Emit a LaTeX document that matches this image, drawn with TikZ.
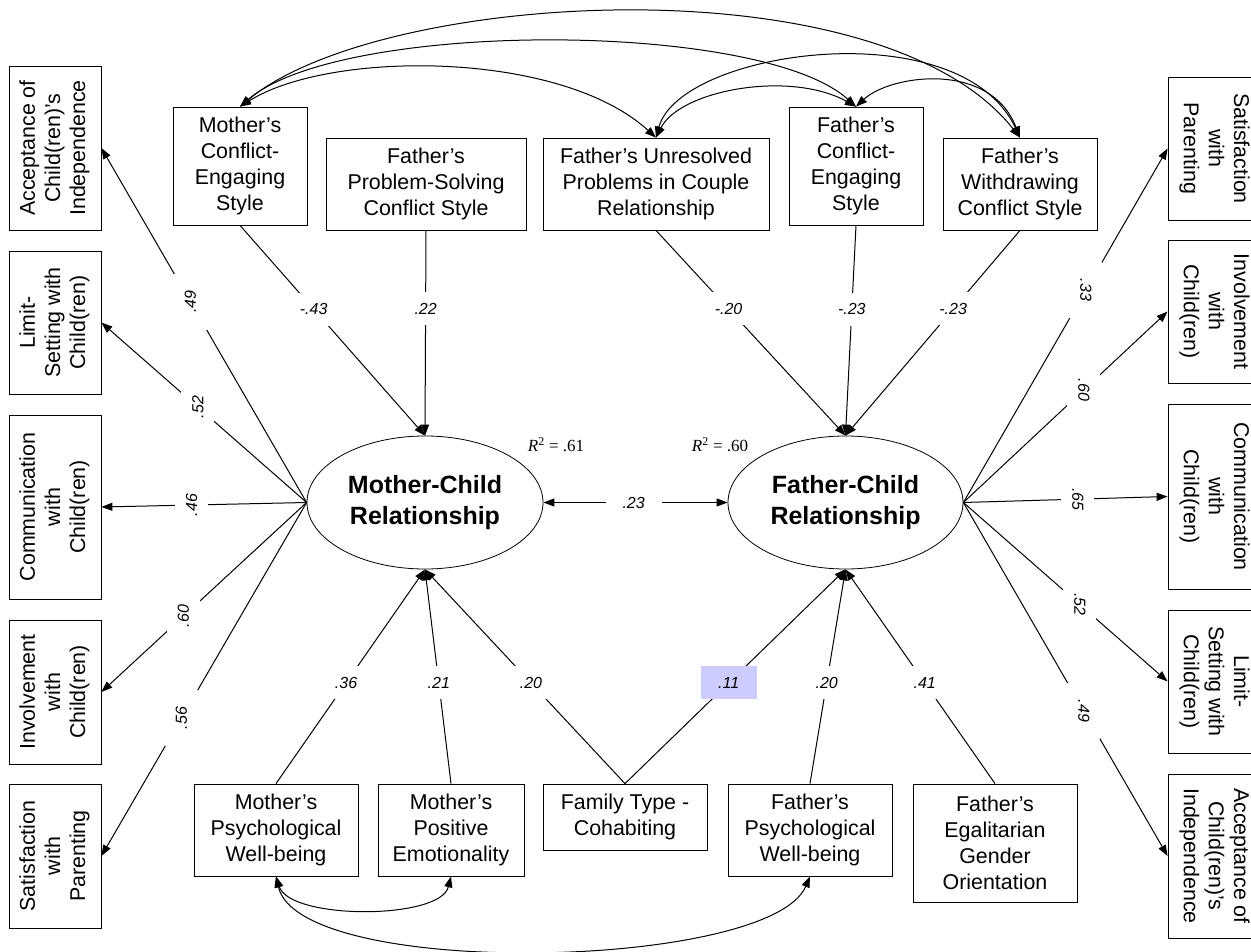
\documentclass[tikz,border=0pt]{standalone}
\usepackage{fontspec}
\setmainfont{Liberation Sans}
\newfontfamily\rfont{Liberation Serif}
\usetikzlibrary{arrows.meta,shapes.geometric}
\newcommand{\sidetext}[2]{\rotatebox{#1}{\begin{tabular}{@{}c@{}}#2\end{tabular}}}
\definecolor{hilite}{HTML}{CCCCFF}
\begin{document}
\begin{tikzpicture}[x=1pt,y=-1pt,
  box/.style={draw, line width=0.8pt, rectangle, inner sep=0pt, align=center,
    font=\fontsize{21.4}{26.2}\selectfont},
  sbox/.style={box, minimum width=92pt, font=\fontsize{21.4}{25.2}\selectfont},
  lat/.style={draw, line width=0.8pt, ellipse, inner sep=0pt, align=center,
    minimum width=236pt, minimum height=133pt,
    font=\fontsize{25}{31}\selectfont\bfseries},
  lab/.style={font=\fontsize{16}{16}\selectfont\itshape, fill=white,
    minimum width=56pt, minimum height=33pt, inner sep=0pt},
  r2/.style={font=\rfont\fontsize{17}{17}\selectfont, inner sep=0pt},
  tip/.tip={Triangle[length=11pt,width=8pt]},
  arr/.style={line width=1pt, -tip},
  darr/.style={line width=1pt, tip-tip},
]
\useasboundingbox (0,0) rectangle (1251,952);

% latent variables
\node[lat] (mc) at (425,502.5) {Mother-Child\\Relationship};
\node[lat, minimum width=235pt] (fc) at (845.5,502.5) {Father-Child\\Relationship};

% top predictors
\node[box, minimum width=134pt, minimum height=118pt] (mce) at (240,166) {Mother’s\\Conflict-\\Engaging\\Style};
\node[box, minimum width=200pt, minimum height=92pt] (fps) at (426,184) {Father’s\\Problem-Solving\\Conflict Style};
\node[box, minimum width=226pt, minimum height=92pt] (fu) at (656,184) {Father’s Unresolved\\Problems in Couple\\Relationship};
\node[box, minimum width=134pt, minimum height=118pt] (fce) at (856,166) {Father’s\\Conflict-\\Engaging\\Style};
\node[box, minimum width=154pt, minimum height=92pt] (fw) at (1020,184) {Father’s\\Withdrawing\\Conflict Style};

% bottom predictors
\node[box, minimum width=164pt, minimum height=92pt] (mpw) at (276,830) {Mother’s\\Psychological\\Well-being};
\node[box, minimum width=146pt, minimum height=92pt] (mpe) at (451,830) {Mother’s\\Positive\\Emotionality};
\node[box, minimum width=164pt, minimum height=66pt] (ft) at (625,817) {Family Type -\\Cohabiting};
\node[box, minimum width=164pt, minimum height=92pt] (fpw) at (810,830) {Father’s\\Psychological\\Well-being};
\node[box, minimum width=164pt, minimum height=118pt] (feg) at (995,843) {Father’s\\Egalitarian\\Gender\\Orientation};

% left indicators
\node[sbox, minimum height=164pt] (lacc) at (55,148) {\sidetext{90}{Acceptance of\\Child(ren)’s\\Independence}};
\node[sbox, minimum height=143pt] (llim) at (55,322.5) {\sidetext{90}{Limit-\\Setting with\\Child(ren)}};
\node[sbox, minimum height=184pt] (lcom) at (55,507) {\sidetext{90}{Communication\\with\\Child(ren)}};
\node[sbox, minimum height=144pt] (linv) at (55,692) {\sidetext{90}{Involvement\\with\\Child(ren)}};
\node[sbox, minimum height=144pt] (lsat) at (55,856) {\sidetext{90}{Satisfaction\\with\\Parenting}};

% right indicators
\node[sbox, minimum height=143pt] (rsat) at (1214,148.5) {\sidetext{-90}{Satisfaction\\with\\Parenting}};
\node[sbox, minimum height=143pt] (rinv) at (1214,311.5) {\sidetext{-90}{Involvement\\with\\Child(ren)}};
\node[sbox, minimum height=185pt] (rcom) at (1214,496.5) {\sidetext{-90}{Communication\\with\\Child(ren)}};
\node[sbox, minimum height=143pt] (rlim) at (1214,681.5) {\sidetext{-90}{Limit-\\Setting with\\Child(ren)}};
\node[sbox, minimum height=164pt] (racc) at (1214,856) {\sidetext{-90}{Acceptance of\\Child(ren)’s\\Independence}};

% loadings, mother
\draw[arr] (mc.west) -- node[lab, rotate=90, pos=.566] (l1) {.49} (lacc.east);
\draw[arr] (mc.west) -- node[lab, rotate=90, pos=.53] (l2) {.52} (llim.east);
\draw[arr] (mc.west) -- node[lab, rotate=90, pos=.56] (l3) {.46} (lcom.east);
\draw[arr] (mc.west) -- node[lab, rotate=90, pos=.6] (l4) {.60} (linv.east);
\draw[arr] (mc.west) -- node[lab, rotate=90, pos=.61] (l5) {.56} (lsat.east);

% loadings, father
\draw[arr] (fc.east) -- node[lab, rotate=-90, pos=.6] (r1) {.33} (rsat.west);
\draw[arr] (fc.east) -- node[lab, rotate=-90, pos=.59] (r2) {.60} (rinv.west);
\draw[arr] (fc.east) -- node[lab, rotate=-90, pos=.56] (r3) {.65} (rcom.west);
\draw[arr] (fc.east) -- node[lab, rotate=-90, pos=.57] (r4) {.52} (rlim.west);
\draw[arr] (fc.east) -- node[lab, rotate=-90, pos=.59] (r5) {.49} (racc.west);

% top paths
\draw[arr] (mce.south) -- node[lab, pos=.398] (p1) {-.43} (mc.north);
\draw[arr] (fps.south) -- node[lab, pos=.383] (p2) {.22} (mc.north);
\draw[arr] (fu.south) -- node[lab, pos=.383] (p3) {-.20} (fc.north);
\draw[arr] (fce.south) -- node[lab, pos=.398] (p4) {-.23} (fc.north);
\draw[arr] (fw.south) -- node[lab, pos=.383] (p5) {-.23} (fc.north);

% bottom paths
\draw[arr] (mpw.north) -- node[lab, pos=.47] (q1) {.36} (mc.south);
\draw[arr] (mpe.north) -- node[lab, pos=.47] (q2) {.21} (mc.south);
\draw[arr] (ft.north) -- node[lab, pos=.47] (q3) {.20} (mc.south);
\draw[arr] (ft.north) -- node[lab, pos=.47, fill=hilite] (q4) {.11} (fc.south);
\draw[arr] (fpw.north) -- node[lab, pos=.47] (q5) {.20} (fc.south);
\draw[arr] (feg.north) -- node[lab, pos=.47] (q6) {.41} (fc.south);

% latent covariance
\draw[darr] (mc.east) -- node[lab, pos=.49] (c0) {.23} (fc.west);

% R squared
\node[r2] (r2m) at (556,445) {\textit{R}\textsuperscript{2} = .61};
\node[r2] (r2f) at (720,445) {\textit{R}\textsuperscript{2} = .60};

% covariances among top predictors
\draw[darr] (mce.north) .. controls (380,-10) and (880,-40) .. (fw.north);
\draw[darr] (mce.north) .. controls (340,20) and (760,20) .. (fce.north);
\draw[darr] (mce.north) .. controls (330,50) and (560,50) .. (fu.north);
\draw[darr] (fu.north) .. controls (680,90) and (790,70) .. (fce.north);
\draw[darr] (fu.north) .. controls (680,50) and (960,10) .. (fw.north);
\draw[darr] (fce.north) .. controls (890,75) and (990,60) .. (fw.north);

% covariances among bottom predictors
\draw[darr] (mpw.south) .. controls (290,920) and (440,920) .. (mpe.south);
\draw[darr] (mpw.south) .. controls (300,980) and (770,970) .. (fpw.south);
\end{tikzpicture}
\end{document}
